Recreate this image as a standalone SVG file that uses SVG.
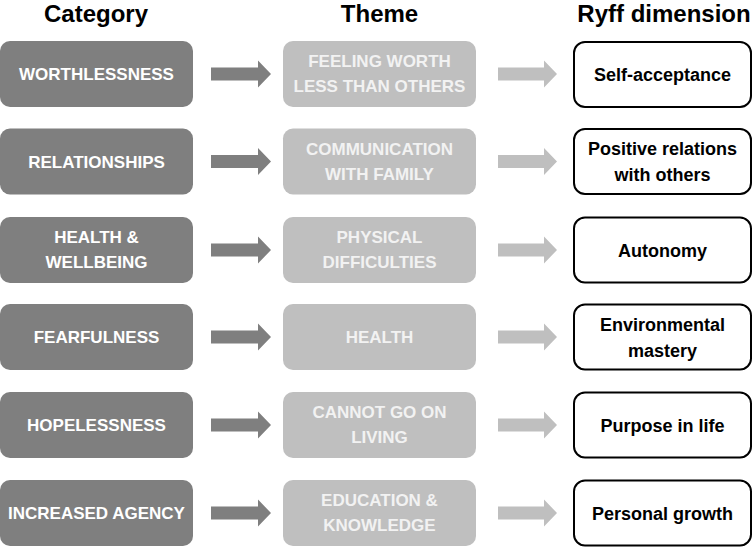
<svg xmlns="http://www.w3.org/2000/svg" width="753" height="549" viewBox="0 0 753 549">
<defs>
<style>
text{font-family:"Liberation Sans",Arial,sans-serif;font-weight:bold;text-anchor:middle}
.hdr{font-size:24px;fill:#000}
.cat rect{fill:#7f7f7f}
.cat text{fill:#ffffff;font-size:17px}
.thm rect{fill:#bfbfbf}
.thm text{fill:#f2f2f2;font-size:17px}
.ryf rect{fill:#ffffff;stroke:#000;stroke-width:2}
.ryf text{fill:#000;font-size:18px}
.ad{fill:#7f7f7f}
.al{fill:#bfbfbf}
</style>
</defs>
<rect width="753" height="549" fill="#fff"/>
<text class="hdr" x="96" y="22">Category</text>
<text class="hdr" x="379.5" y="22">Theme</text>
<text class="hdr" x="664" y="22">Ryff dimension</text>

<g id="connectors">
<g class="ad">
<path d="M211,67.5H258V60.5L271,74L258,87.5V80.5H211Z"/>
<path d="M211,155H258V148L271,161.5L258,175V168H211Z"/>
<path d="M211,243.5H258V236.5L271,250L258,263.5V256.5H211Z"/>
<path d="M211,330.5H258V323.5L271,337L258,350.5V343.5H211Z"/>
<path d="M211,418.5H258V411.5L271,425L258,438.5V431.5H211Z"/>
<path d="M211,506.5H258V499.5L271,513L258,526.5V519.5H211Z"/>
</g>
<g class="al">
<path d="M498,67.5H544V60.5L557,74L544,87.5V80.5H498Z"/>
<path d="M498,155H544V148L557,161.5L544,175V168H498Z"/>
<path d="M498,243.5H544V236.5L557,250L544,263.5V256.5H498Z"/>
<path d="M498,330.5H544V323.5L557,337L544,350.5V343.5H498Z"/>
<path d="M498,418.5H544V411.5L557,425L544,438.5V431.5H498Z"/>
<path d="M498,506.5H544V499.5L557,513L544,526.5V519.5H498Z"/>
</g>
</g>

<g id="cat1" class="cat"><rect x="0" y="41" width="193" height="66" rx="10"/><text x="96.5" y="80">WORTHLESSNESS</text></g>
<g id="cat2" class="cat"><rect x="0" y="128.5" width="193" height="66" rx="10"/><text x="96.5" y="167.5">RELATIONSHIPS</text></g>
<g id="cat3" class="cat"><rect x="0" y="217" width="193" height="66" rx="10"/><text x="96.5" y="243">HEALTH &amp;</text><text x="96.5" y="268">WELLBEING</text></g>
<g id="cat4" class="cat"><rect x="0" y="304" width="193" height="66" rx="10"/><text x="96.5" y="343">FEARFULNESS</text></g>
<g id="cat5" class="cat"><rect x="0" y="392" width="193" height="66" rx="10"/><text x="96.5" y="431">HOPELESSNESS</text></g>
<g id="cat6" class="cat"><rect x="0" y="480" width="193" height="66" rx="10"/><text x="96.5" y="519">INCREASED AGENCY</text></g>

<g id="thm1" class="thm"><rect x="283" y="41" width="193" height="66" rx="10"/><text x="379.5" y="67">FEELING WORTH</text><text x="379.5" y="92">LESS THAN OTHERS</text></g>
<g id="thm2" class="thm"><rect x="283" y="128.5" width="193" height="66" rx="10"/><text x="379.5" y="154.5">COMMUNICATION</text><text x="379.5" y="179.5">WITH FAMILY</text></g>
<g id="thm3" class="thm"><rect x="283" y="217" width="193" height="66" rx="10"/><text x="379.5" y="243">PHYSICAL</text><text x="379.5" y="268">DIFFICULTIES</text></g>
<g id="thm4" class="thm"><rect x="283" y="304" width="193" height="66" rx="10"/><text x="379.5" y="343">HEALTH</text></g>
<g id="thm5" class="thm"><rect x="283" y="392" width="193" height="66" rx="10"/><text x="379.5" y="418">CANNOT GO ON</text><text x="379.5" y="443">LIVING</text></g>
<g id="thm6" class="thm"><rect x="283" y="480" width="193" height="66" rx="10"/><text x="379.5" y="506">EDUCATION &amp;</text><text x="379.5" y="531">KNOWLEDGE</text></g>

<g id="ryf1" class="ryf"><rect x="574" y="42" width="177" height="65" rx="11"/><text x="662.5" y="80.5">Self-acceptance</text></g>
<g id="ryf2" class="ryf"><rect x="574" y="129" width="177" height="65" rx="11"/><text x="662.5" y="155">Positive relations</text><text x="662.5" y="181">with others</text></g>
<g id="ryf3" class="ryf"><rect x="574" y="217.5" width="177" height="65" rx="11"/><text x="662.5" y="256.5">Autonomy</text></g>
<g id="ryf4" class="ryf"><rect x="574" y="304.5" width="177" height="65" rx="11"/><text x="662.5" y="330.5">Environmental</text><text x="662.5" y="356.5">mastery</text></g>
<g id="ryf5" class="ryf"><rect x="574" y="392.5" width="177" height="65" rx="11"/><text x="662.5" y="431.5">Purpose in life</text></g>
<g id="ryf6" class="ryf"><rect x="574" y="480.5" width="177" height="65" rx="11"/><text x="662.5" y="519.5">Personal growth</text></g>
</svg>
